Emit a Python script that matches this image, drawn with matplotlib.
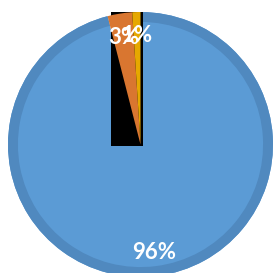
import matplotlib
matplotlib.use("Agg")
import matplotlib.pyplot as plt
from matplotlib.patches import Wedge, Rectangle

# данные круговой диаграммы
labels = ["A", "B", "C"]
values = [96, 3, 1]
colors = ["#5b9bd5", "#d97630", "#e6a800"]

fig = plt.figure(figsize=(2.73, 2.73), dpi=100)
ax = fig.add_axes([0, 0, 1, 1])

wedges, texts, autotexts = ax.pie(
    values, colors=colors, startangle=90, counterclock=False,
    autopct="%1.0f%%", pctdistance=0.82, radius=1.0,
    textprops=dict(color="white", fontweight="bold", fontsize=16, family="Lato"),
)

# тёмная кайма по краю синего сектора
w = wedges[0]
ring = Wedge((0, 0), w.r, w.theta1, w.theta2, width=0.075,
             facecolor="#5089bf", edgecolor="none", zorder=w.get_zorder() + 0.1)
ax.add_patch(ring)

# чёрный прямоугольник за малыми секторами
ax.add_patch(Rectangle((-0.223, -0.011), 0.242, 1.011, facecolor="black",
                       edgecolor="none", zorder=w.get_zorder() + 0.2))
for sw in wedges[1:]:
    sw.set_zorder(w.get_zorder() + 0.3)
for t in autotexts:
    t.set_zorder(5)

ax.set_xlim(-1.0604, 1.0)
ax.set_ylim(-0.9698, 1.0906)
ax.set_aspect("equal")
ax.axis("off")

fig.savefig("out.png", dpi=100)
